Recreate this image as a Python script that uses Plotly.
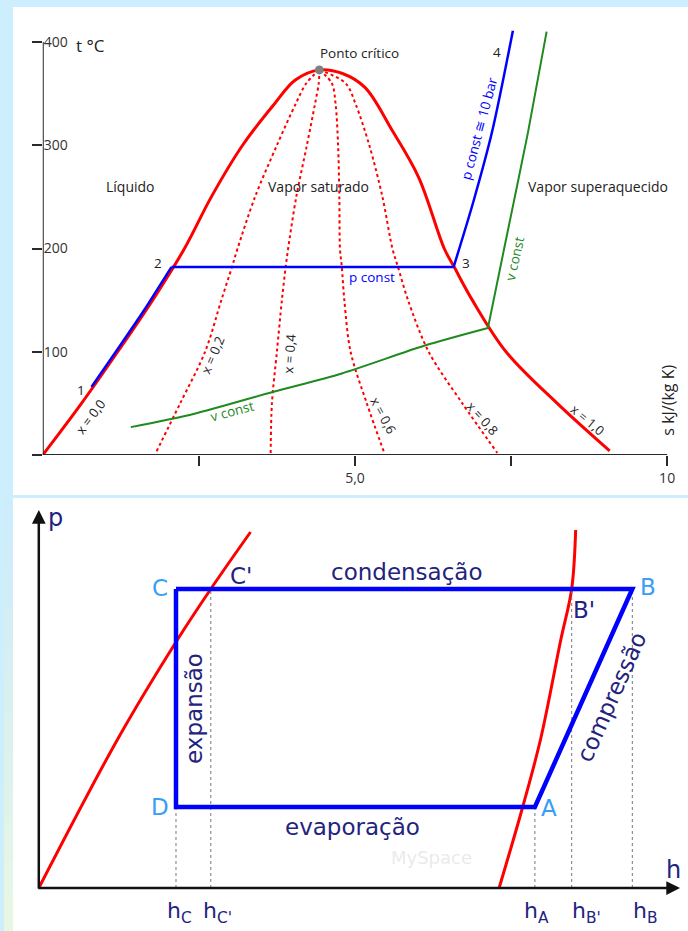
import plotly.graph_objects as go

# ---------------- top panel data (T-s diagram) ----------------
dome_s = [0, 0.62, 1.20, 1.76, 2.27, 2.70, 3.20, 3.71, 4.04, 4.43, 4.80, 5.16, 5.59, 6.02, 6.43, 6.59, 6.88,
          7.42, 8.24, 9.08]
dome_T = [0, 50, 100, 150, 200, 250, 300, 340, 363, 373, 369.5, 356, 315, 269, 200, 182, 150,
          100, 50, 4]

qual_T = [373, 360, 340, 300, 250, 200, 182, 150, 100, 50, 2]
q02_s = [4.43, 4.22, 4.05, 3.75, 3.40, 3.12, 3.03, 2.86, 2.60, 2.20, 1.81]
q04_s = [4.43, 4.42, 4.36, 4.23, 4.06, 3.93, 3.89, 3.83, 3.75, 3.67, 3.65]
q06_s = [4.43, 4.63, 4.69, 4.73, 4.75, 4.76, 4.79, 4.83, 4.93, 5.19, 5.47]
q08_s = [4.43, 4.85, 5.01, 5.23, 5.44, 5.60, 5.69, 5.85, 6.18, 6.72, 7.28]

# p const: liquid part (1 -> 2), evaporation (2 -> 3), superheated (3 -> 4)
pliq_s = [0.78, 1.17, 1.62, 2.06]
pliq_T = [66, 100, 140, 182]
pevap_s = [2.06, 6.58]
pevap_T = [182, 182]
psup_s = [6.58, 6.90, 7.20, 7.53]
psup_T = [182, 246, 314, 411]

# v const: wet region and superheated region
vwet_s = [1.41, 2.43, 3.68, 4.79, 6.12, 7.13]
vwet_T = [27, 40, 61, 79, 106, 123]
vsup_s = [7.13, 7.39, 7.77, 8.07]
vsup_T = [123, 200, 312, 410]

crit_s = [4.43]
crit_T = [373]

s_ticks = [0, 2.5, 5, 7.5, 10]
s_ticktext = ["0", "", "5,0", "", "10"]
T_ticks = [0, 100, 200, 300, 400]
T_ticktext = ["", "100", "200", "300", "400"]

# ---------------- bottom panel data (p-h diagram) ----------------
liq_h = [0, 80, 138, 173, 213]
liq_p = [0, 150, 246, 299, 356]
vap_h = [463, 487, 505, 525, 536, 540]
vap_p = [0, 82, 150, 248, 299, 358]
cycle_h = [138, 597, 499, 138, 138]
cycle_p = [299, 299, 81, 81, 299]
mark_h = [138, 173, 499, 536, 597]
mark_p = [81, 299, 81, 299, 299]
mark_labels = ["h<sub>C</sub>", "h<sub>C'</sub>", "h<sub>A</sub>", "h<sub>B'</sub>", "h<sub>B</sub>"]
mark_label_h = [127, 163, 486, 534, 596]

W, H = 688, 931
RED = "#ff0000"
BLUE = "#0000ff"
GREEN = "#1f8a1f"
NAVY = "#23237e"
LBLUE = "#3a9ef5"
TXT = "#222222"
TOPF = "Open Sans"
BOTF = "DejaVu Sans"

fig = go.Figure()

def line(x, y, color, width, ref="", shape="linear", dash="solid", smoothing=1.0):
    ln = dict(color=color, width=width, shape=shape, dash=dash)
    if shape == "spline":
        ln["smoothing"] = smoothing
    fig.add_trace(go.Scatter(x=x, y=y, mode="lines", line=ln, xaxis="x" + ref, yaxis="y" + ref, hoverinfo="skip"))

# top traces
line(dome_s, dome_T, RED, 3, shape="spline", smoothing=1.0)
for qs in [q02_s, q04_s, q06_s, q08_s]:
    line(qs, qual_T, RED, 2, shape="spline", dash="3px,3px", smoothing=0.9)
line(vwet_s, vwet_T, GREEN, 2, shape="spline", smoothing=0.8)
line(vsup_s, vsup_T, GREEN, 2, shape="spline", smoothing=0.6)
line(pliq_s, pliq_T, BLUE, 2.5, shape="spline", smoothing=0.6)
line(pevap_s, pevap_T, BLUE, 2.5)
line(psup_s, psup_T, BLUE, 2.5, shape="spline", smoothing=0.8)
fig.add_trace(go.Scatter(x=crit_s, y=crit_T, mode="markers", marker=dict(color="#808080", size=9),
                         xaxis="x", yaxis="y", hoverinfo="skip"))

# bottom traces
line(liq_h, liq_p, RED, 3, ref="2", shape="spline")
line(vap_h, vap_p, RED, 3, ref="2", shape="spline")
for h, p in zip(mark_h, mark_p):
    line([h, h], [0, p], "#777777", 1, ref="2", dash="dot")
line(cycle_h, cycle_p, BLUE, 4.5, ref="2")

shapes = []
# background panels
shapes.append(dict(type="rect", xref="paper", yref="paper", x0=9 / W, x1=1, y0=1 - 495 / H, y1=1 - 7 / H,
                   fillcolor="white", line=dict(width=0), layer="below"))
shapes.append(dict(type="rect", xref="paper", yref="paper", x0=9 / W, x1=1, y0=0, y1=1 - 498 / H,
                   fillcolor="white", line=dict(width=0), layer="below"))
# left strip gradient (blue -> green)
n = 12
for i in range(n):
    t = i / (n - 1)
    r = int(205 + t * (232 - 205)); g = int(236 + t * (246 - 236)); b = int(252 + t * (228 - 252))
    y_top = 498 + i * (433 / n)
    shapes.append(dict(type="rect", xref="paper", yref="paper", x0=0, x1=9 / W,
                       y0=max(0, 1 - (y_top + 433 / n + 1) / H), y1=1 - y_top / H,
                       fillcolor=f"rgb({r},{g},{b})", line=dict(width=0), layer="below"))
# top axis lines
shapes.append(dict(type="line", xref="x", yref="y", x0=0, x1=0, y0=0, y1=400, line=dict(color="#2a2a2a", width=2)))
shapes.append(dict(type="line", xref="x", yref="y", x0=0, x1=10, y0=0, y1=0, line=dict(color="#2a2a2a", width=2)))

ann = []

def txt(text, x, y, ref="", angle=0, color=TXT, size=13.5, family=TOPF, xanchor="center", yanchor="middle"):
    ann.append(dict(text=text, x=x, y=y, xref="x" + ref, yref="y" + ref, showarrow=False, textangle=angle,
                    font=dict(color=color, size=size, family=family), xanchor=xanchor, yanchor=yanchor))

# top labels
txt("t °C", 0.50, 397, size=17, xanchor="left")
txt("Ponto crítico", 5.08, 389.5)
txt("Líquido", 1.40, 260.5, size=14)
txt("Vapor saturado", 4.41, 260.5, size=14)
txt("Vapor superaquecido", 8.90, 260.5, size=14)
txt("p const", 5.27, 172.4, color=BLUE)
txt("p const ≅ 10 bar", 6.99, 316.7, angle=-75, color=BLUE)
txt("v const", 7.56, 190.7, angle=-77, color=GREEN)
txt("v const", 3.04, 42.6, angle=-15, color=GREEN)
txt("x = 0,0", 0.76, 36.8, angle=-53, size=13)
txt("x = 0,2", 2.72, 96.9, angle=-67, size=13)
txt("x = 0,4", 3.95, 98.8, angle=-86, size=13)
txt("x = 0,6", 5.45, 38.7, angle=62, size=13)
txt("x = 0,8", 7.04, 35.8, angle=48, size=13)
txt("x = 1,0", 8.73, 33.9, angle=40, size=13)
txt("1", 0.61, 63)
txt("2", 1.85, 186)
txt("3", 6.78, 186)
txt("4", 7.28, 390)
txt("s kJ/(kg K)", 10.02, 53, angle=-90, size=16)

# bottom labels
txt("C", 122, 300, ref="2", color=LBLUE, size=23, family=BOTF)
txt("D", 122, 81, ref="2", color=LBLUE, size=23, family=BOTF)
txt("B", 613, 301, ref="2", color=LBLUE, size=23, family=BOTF)
txt("A", 513, 80, ref="2", color=LBLUE, size=23, family=BOTF)
txt("C'", 203, 312, ref="2", color=NAVY, size=23, family=BOTF)
txt("B'", 548, 278, ref="2", color=NAVY, size=23, family=BOTF)
txt("condensação", 370, 316, ref="2", color=NAVY, size=23, family=BOTF)
txt("evaporação", 316, 61, ref="2", color=NAVY, size=23, family=BOTF)
txt("expansão", 156, 180, ref="2", angle=-90, color=NAVY, size=23, family=BOTF)
txt("compressão", 576, 191, ref="2", angle=-66, color=NAVY, size=23, family=BOTF)
txt("p", 17, 370, ref="2", color=NAVY, size=24, family=BOTF)
txt("h", 638, 18, ref="2", color=NAVY, size=24, family=BOTF)
txt("MySpace", 395, 31, ref="2", color="rgba(200,200,200,0.4)", size=18, family=BOTF)
for lab, lh in zip(mark_labels, mark_label_h):
    txt(lab, lh, -8, ref="2", color=NAVY, size=22, family=BOTF, xanchor="left", yanchor="top")

# bottom axis arrows
ann.append(dict(x=645, y=0, ax=-2, ay=0, xref="x2", yref="y2", axref="x2", ayref="y2", text="", showarrow=True,
                arrowhead=2, arrowsize=1.1, arrowwidth=2.5, arrowcolor="#111111", standoff=0))
ann.append(dict(x=0, y=378, ax=0, ay=-2, xref="x2", yref="y2", axref="x2", ayref="y2", text="", showarrow=True,
                arrowhead=2, arrowsize=1.1, arrowwidth=2.5, arrowcolor="#111111", standoff=0))

fig.update_layout(
    width=W, height=H, margin=dict(l=0, r=0, t=0, b=0),
    paper_bgcolor="#cdeefc", plot_bgcolor="rgba(0,0,0,0)", showlegend=False,
    shapes=shapes, annotations=ann,
    xaxis=dict(domain=[39 / W, 1], range=[0, (W - 39) / 62.8], tickvals=s_ticks, ticktext=s_ticktext,
               ticks="outside", ticklen=10, tickwidth=2, tickcolor="#2a2a2a", showgrid=False, zeroline=False,
               showline=False, tickfont=dict(family=TOPF, size=14, color="#333333"), anchor="y", fixedrange=True),
    yaxis=dict(domain=[1 - 455 / H, 1 - 21.35 / H], range=[0, 420], tickvals=T_ticks, ticktext=T_ticktext,
               ticks="outside", ticklen=10, tickwidth=2, tickcolor="#2a2a2a", ticklabelposition="inside",
               ticklabelstandoff=-2,
               showgrid=False, zeroline=False, showline=False,
               tickfont=dict(family=TOPF, size=14, color="#333333"), anchor="x", fixedrange=True),
    xaxis2=dict(domain=[35 / W, 1], range=[0, 653], visible=False, anchor="y2", fixedrange=True),
    yaxis2=dict(domain=[0, 1 - 500 / H], range=[-43, 388], visible=False, anchor="x2", fixedrange=True),
)

fig.write_html("out.html", config={"displayModeBar": False},
               post_script="document.body.style.margin='0';document.body.style.padding='0';")
